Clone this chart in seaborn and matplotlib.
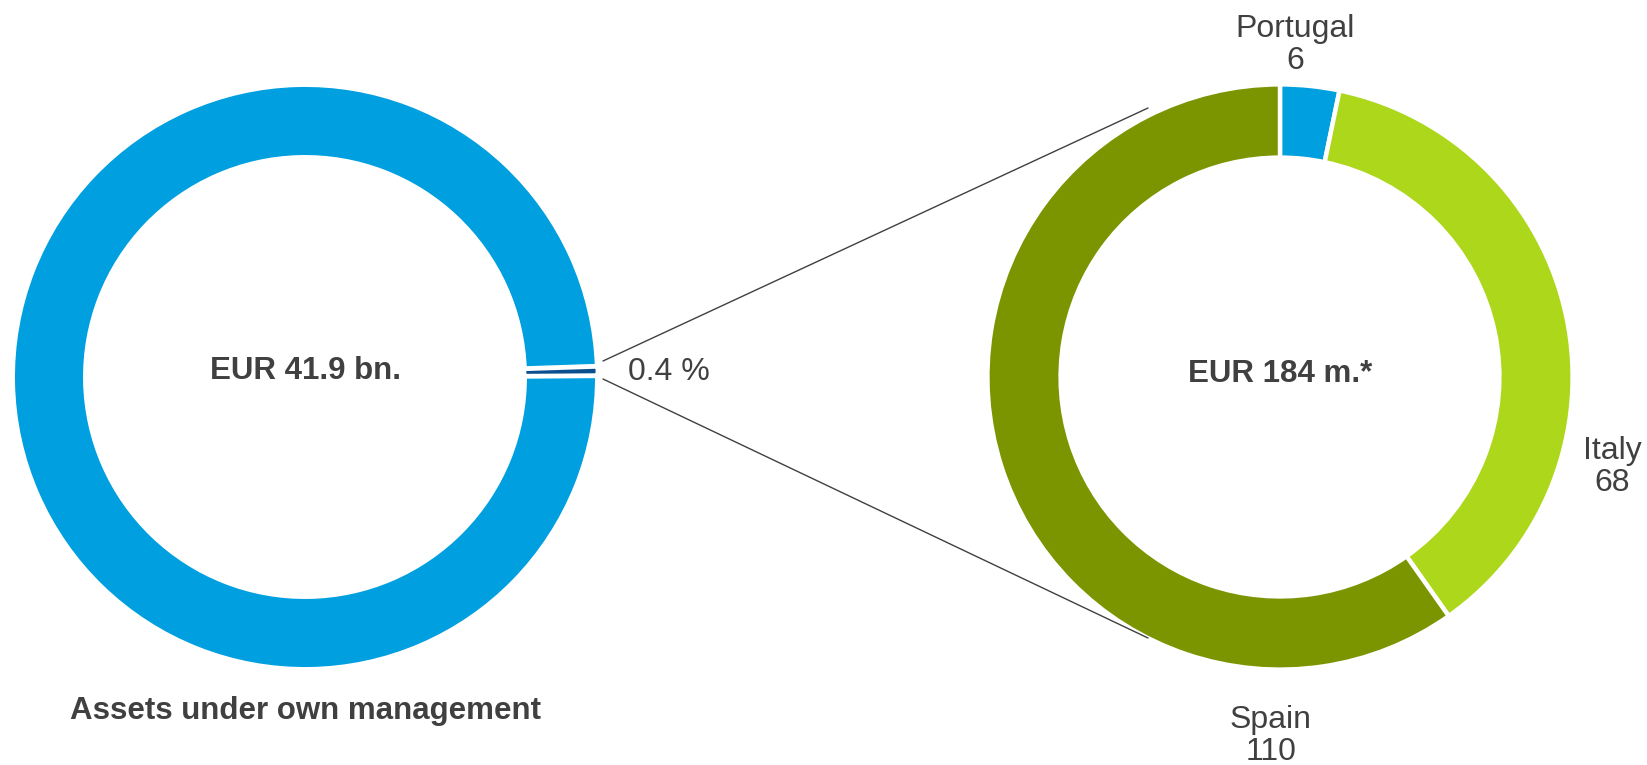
import matplotlib
matplotlib.use("Agg")
import matplotlib.pyplot as plt
import seaborn as sns

sns.set_theme(style="white")
plt.rcParams['font.family'] = ['Liberation Sans', 'DejaVu Sans']

# Data
total_labels = ["Other assets", "Southern Europe"]
total_shares = [99.6, 0.4]
countries = ["Portugal", "Italy", "Spain"]
country_values = [6, 68, 110]

blue = "#009fe0"
dark_blue = "#0b4f8e"
light_green = "#acd71a"
olive = "#7a9500"
text_col = "#404040"

W, H = 1647, 765
fig = plt.figure(figsize=(W / 100, H / 100), dpi=100)
ax = fig.add_axes([0, 0, 1, 1])

def Y(y):
    return H - y

lw = 3.2
R = 291 + lw / 2
w = 70 + lw

# Left donut
lc = (305, Y(377))
lw_blue, lw_dark = 5.0, 2.0
wedges, _ = ax.pie([total_shares[1], total_shares[0]], colors=[dark_blue, blue],
                   startangle=1.9, counterclock=False, radius=291 + lw_blue / 2,
                   center=lc, frame=True,
                   wedgeprops=dict(width=70 + lw_blue, edgecolor="white", linewidth=lw_blue))
dark_w, blue_w = wedges
dark_w.set_linewidth(lw_dark)
dark_w.set_radius(291 + lw_dark / 2)
dark_w.set_width(70 + lw_dark)
dark_w.set_zorder(blue_w.get_zorder() + 1)

# Right donut
rc = (1280, Y(377))
ax.pie(country_values, colors=[blue, light_green, olive], startangle=90,
       counterclock=False, radius=R, center=rc, frame=True,
       wedgeprops=dict(width=w, edgecolor="white", linewidth=lw))

ax.set_xlim(0, W)
ax.set_ylim(0, H)
ax.set_aspect("equal")
ax.axis("off")

# connector lines
ax.plot([603, 1148], [Y(361), Y(108)], color="#404040", lw=1)
ax.plot([603, 1148], [Y(379), Y(638)], color="#404040", lw=1)

fs = 23
fsb = 22.5
ax.text(lc[0], Y(371), "EUR 41.9 bn.", ha="center", va="center", fontsize=fsb,
        fontweight="bold", color=text_col)
ax.text(rc[0], Y(374), "EUR 184 m.*", ha="center", va="center", fontsize=fsb,
        fontweight="bold", color=text_col)
ax.text(669, Y(372), f"{total_shares[1]} %", ha="center", va="center", fontsize=fs,
        color=text_col)
ax.text(lc[0], Y(711), "Assets under own management", ha="center", va="center",
        fontsize=fsb, fontweight="bold", color=text_col)

label_pos = {"Portugal": (1295, 45), "Italy": (1612, 467), "Spain": (1271, 736)}
for name, val in zip(countries, country_values):
    x, y = label_pos[name]
    ax.text(x, Y(y), f"{name}\n{val}", ha="center", va="center", fontsize=fs,
            color=text_col, linespacing=1.12)

fig.savefig("out.png", dpi=100, facecolor="white")
